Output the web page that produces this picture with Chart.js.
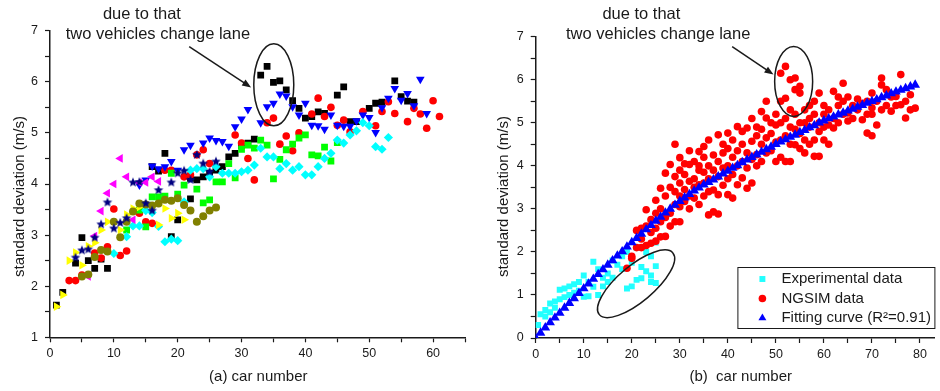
<!DOCTYPE html>
<html>
<head>
<meta charset="utf-8">
<script src="https://cdn.jsdelivr.net/npm/chart.js@4.4.0/dist/chart.umd.min.js"></script>
<style>
  body { margin: 0; background: #fff; }
  .wrap { display: flex; width: 940px; height: 391px; }
</style>
</head>
<body>
<div class="wrap">
  <canvas id="left" width="470" height="391"></canvas>
  <canvas id="right" width="470" height="391"></canvas>
</div>
<script>
// ---------- (a) panel: one series per platoon ----------
const blackSq = [[1,1.63],[2,1.88],[4,2.45],[5,2.95],[6,2.5],[7,2.35],[8,2.53],[9,2.35],[16,4.34],[17,4.25],[18,4.6],[19,2.97],[20,3.3],[22,3.71],[22,4.11],[23,4.08],[24,4.14],[25,4.21],[26,4.27],[27,4.34],[28,4.53],[29,4.6],[30,4.75],[31,4.8],[32,4.88],[33,6.13],[34,6.30],[35,5.99],[36,6.02],[37,5.84],[38,5.63],[39,5.48],[40,5.29],[41,5.32],[42,5.41],[43,5.38],[45,5.74],[46,5.9],[47,5.22],[48,5.22],[50,5.48],[51,5.58],[52,5.6],[54,6.02],[55,5.71],[56,5.62],[57,5.6]];
const redCirc = [[3,2.11],[4,2.11],[5,2.22],[7,2.65],[8,2.55],[9,2.77],[10,3.51],[11,2.6],[12,2.69],[14,3.43],[15,3.26],[16,3.23],[18,4.27],[19,4.27],[21,4.14],[22,4.18],[23,4.57],[24,4.67],[25,4.4],[29,4.96],[30,4.8],[31,4.5],[32,4.08],[34,5.2],[35,5.29],[36,4.78],[37,4.94],[38,4.65],[39,5.0],[41,5.37],[42,5.68],[43,5.32],[44,5.5],[45,5.15],[46,5.25],[47,5.02],[49,5.42],[51,5.14],[52,5.42],[53,5.61],[54,5.38],[56,5.22],[57,5.48],[58,5.37],[59,5.09],[60,5.63],[61,5.32]];
const blueTri = [[14,3.98],[15,4.08],[16,4.35],[17,4.3],[18,4.34],[19,4.44],[20,4.27],[21,4.67],[22,4.76],[24,4.8],[25,4.9],[26,4.85],[27,4.83],[28,4.74],[29,5.12],[30,5.27],[31,5.46],[33,5.2],[34,5.51],[35,5.58],[36,5.76],[37,5.72],[38,5.51],[39,5.35],[40,5.58],[41,5.15],[42,5.14],[43,5.07],[44,5.35],[45,5.15],[46,5.13],[47,5.13],[48,5.24],[49,5.35],[50,5.3],[51,5.01],[52,5.49],[53,5.68],[54,5.87],[55,5.64],[56,5.77],[57,5.53],[58,6.05],[59,5.38]];
const greenSq = [[12,3.1],[14,3.49],[15,3.16],[16,3.75],[17,3.75],[18,3.76],[19,4.21],[20,3.8],[21,3.98],[23,3.9],[24,3.63],[25,3.69],[26,4.04],[27,4.04],[28,4.4],[29,4.12],[30,4.68],[31,4.76],[32,4.7],[33,4.86],[34,4.76],[35,4.1],[36,4.48],[37,4.67],[38,4.78],[39,4.9],[40,4.96],[41,4.57],[42,4.55],[43,4.72],[44,4.45],[45,4.81]];
const cyanDia = [[10,2.64],[12,2.97],[13,3.18],[14,3.18],[15,3.48],[16,3.44],[17,3.17],[18,2.87],[19,2.92],[20,2.89],[21,3.65],[22,4.27],[23,4.3],[24,4.3],[25,4.14],[26,4.34],[27,4.21],[28,4.21],[29,4.21],[30,4.24],[31,4.27],[32,4.37],[33,4.7],[34,4.53],[35,4.53],[36,4.3],[37,4.4],[38,4.27],[39,4.34],[40,4.18],[41,4.18],[42,4.34],[43,4.5],[44,4.6],[45,4.86],[46,4.8],[47,4.96],[48,5.04],[49,5.2],[50,5.14],[51,4.73],[52,4.68],[53,4.91]];
const magentaTri = [[6,2.19],[7,2.98],[8,3.47],[9,3.82],[10,4.0],[11,4.5],[12,4.14],[13,3.3],[14,4.03],[15,4.03],[16,4.14],[17,4.05]];
const navyStar = [[4,2.56],[5,2.7],[6,2.72],[7,2.95],[8,3.21],[9,3.64],[10,3.13],[11,3.24],[12,3.33],[13,4.03],[14,4.04],[15,3.62],[16,3.48],[17,3.88],[19,4.03],[20,4.21],[21,4.26],[22,4.08],[23,4.57],[24,4.4],[25,4.24],[26,4.44]];
const yellowTri = [[1,1.6],[2,1.83],[3,2.5],[4,2.66],[5,2.41],[6,2.78],[7,2.85],[8,3.1],[9,3.26],[11,3.1],[12,3.4],[13,3.52],[14,3.55],[17,3.2],[18,3.52],[19,3.33],[20,3.43],[21,3.3]];
const oliveHex = [[5,2.19],[6,2.23],[7,2.57],[8,2.71],[9,2.68],[10,3.26],[11,2.96],[12,3.26],[13,3.46],[14,3.62],[15,3.6],[16,3.58],[17,3.62],[18,3.69],[19,3.67],[20,3.72],[21,3.59],[22,3.48],[23,3.26],[24,3.37],[25,3.48],[26,3.54]];

// ---------- (b) panel ----------
const expData = [[0.5,0.3],[1,0.55],[2,0.5],[2,0.65],[3,0.8],[3,0.6],[4,0.85],[4,0.7],[5,0.9],[5,1.12],[6,0.95],[6,1.15],[7,1.0],[7,1.2],[8,1.25],[8,1.05],[9,1.3],[9,1.1],[10,1.45],[10,0.96],[11,0.97],[11,1.3],[12,1.77],[12,1.19],[13,1.6],[13,1.0],[14,1.4],[14,1.2],[15,1.5],[15,1.3],[16,1.8],[16,1.4],[17,1.7],[18,1.6],[18,1.9],[19,1.15],[19,2.0],[20,1.2],[20,1.75],[21,1.35],[21,2.1],[22,1.39],[22,1.65],[23,2.0],[23,1.55],[24,1.3],[24,1.9],[24,1.45],[25,1.67],[25,1.28],[25,2.22]];
const ngsimData = [[19,1.62],[20,1.9],[20,1.85],[21,2.1],[21,2.5],[22,2.1],[22,2.55],[22,2.3],[23,2.15],[23,2.6],[23,2.98],[24,2.2],[24,2.45],[24,2.75],[25,2.25],[25,2.55],[25,2.9],[25,3.2],
  [26,2.35],[26,2.7],[26,3.0],[26,3.48],[27,2.36],[27,2.8],[27,3.83],[27,3.3],[28,2.6],[28,2.9],[28,3.5],[28,4.03],[29,2.7],[29,3.1],[29,3.4],[29,4.5],[29,3.75],[30,2.7],[30,3.05],[30,3.3],[30,3.6],[30,4.19],[30,3.9],
  [31,3.17],[31,3.45],[31,3.8],[31,4.05],[32,3.0],[32,3.3],[32,3.64],[32,4.03],[32,4.35],[33,3.25],[33,3.5],[33,3.7],[33,4.1],[34,3.1],[34,3.56],[34,3.9],[34,4.33],[34,4.0],[35,3.3],[35,3.6],[35,3.85],[35,4.2],[35,4.45],
  [36,2.86],[36,3.4],[36,3.7],[36,4.0],[36,4.6],[37,2.93],[37,3.44],[37,3.9],[37,4.25],[38,2.88],[38,3.33],[38,3.75],[38,4.1],[38,4.72],[39,3.55],[39,3.95],[39,4.3],[39,4.5],[40,3.33],[40,3.7],[40,4.0],[40,4.4],[40,4.76],
  [41,3.25],[41,3.8],[41,4.2],[41,4.6],[42,3.56],[42,4.0],[42,4.35],[42,4.91],[43,3.72],[43,4.1],[43,4.5],[43,4.8],[44,3.48],[44,3.95],[44,4.3],[44,4.88],[45,3.6],[45,4.15],[45,4.57],[45,5.1],
  [46,4.26],[46,4.0],[46,4.7],[46,4.9],[47,4.1],[47,4.5],[47,5.26],[47,4.85],[48,4.3],[48,4.65],[48,5.11],[48,5.5],[49,4.35],[49,4.75],[49,5.0],[50,4.1],[50,4.55],[50,4.95],[50,5.2],
  [51,6.15],[51,4.2],[51,4.6],[51,5.0],[51,5.5],[52,6.31],[52,4.1],[52,4.7],[52,5.1],[52,5.57],[53,6.0],[53,5.3],[53,4.1],[53,4.5],[53,4.9],[54,6.04],[54,5.77],[54,4.49],[54,4.85],[54,5.2],[55,5.85],[55,5.69],[55,4.4],[55,4.75],[55,5.0],
  [56,4.3],[56,4.6],[56,5.0],[56,5.3],[57,4.5],[57,4.9],[57,5.4],[57,5.1],[58,4.22],[58,4.6],[58,5.2],[58,5.5],[59,4.22],[59,4.8],[59,5.0],[59,5.69],[60,4.6],[60,4.9],[60,5.2],[60,5.4],
  [61,4.5],[61,4.95],[61,5.3],[62,4.88],[62,5.1],[62,5.73],[63,5.0],[63,5.4],[63,5.6],[64,5.2],[64,5.5],[64,5.92],[65,5.04],[65,5.23],[65,5.6],
  [66,5.1],[66,5.4],[67,5.3],[67,5.55],[68,5.07],[68,5.45],[69,4.76],[69,5.2],[69,5.5],[70,4.7],[70,5.35],[70,5.69],[70,5.2],
  [71,4.95],[71,5.5],[72,6.04],[72,5.88],[72,5.3],[73,5.77],[73,5.4],[74,5.27],[74,5.6],[75,5.61],[75,5.4],[76,6.12],[76,5.42],[77,5.11],[77,5.5],[78,5.65],[78,5.3],[79,5.34]];
// fitted curve, one value per car number 0..79
const fitY = [0.00,0.12,0.24,0.36,0.47,0.58,0.70,0.81,0.92,1.04,1.15,1.26,1.37,1.48,1.59,1.70,1.80,1.91,2.01,2.12,
  2.22,2.32,2.42,2.52,2.62,2.72,2.81,2.91,3.00,3.09,3.18,3.26,3.34,3.42,3.49,3.56,3.62,3.68,3.75,3.82,
  3.88,3.95,4.01,4.08,4.14,4.20,4.26,4.32,4.38,4.44,4.50,4.56,4.61,4.67,4.72,4.78,4.83,4.89,4.94,5.00,
  5.05,5.10,5.14,5.19,5.23,5.28,5.32,5.37,5.41,5.46,5.50,5.54,5.59,5.63,5.68,5.72,5.76,5.80,5.84,5.88];

const FONT = '"Liberation Sans", Arial, sans-serif';
const INK = '#1a1a1a';

function pts(arr) { return arr.map(([x, y]) => ({ x, y })); }

function starCanvas(color, r) {
  const c = document.createElement('canvas');
  c.width = c.height = 2 * r + 2;
  const g = c.getContext('2d');
  g.fillStyle = color;
  g.beginPath();
  for (let i = 0; i < 10; i++) {
    const rr = i % 2 ? r * 0.45 : r;
    const a = -Math.PI / 2 + i * Math.PI / 5;
    g.lineTo(r + 1 + rr * Math.cos(a), r + 1 + rr * Math.sin(a));
  }
  g.closePath();
  g.fill();
  return c;
}

function ds(label, data, style, color, radius, rotation) {
  return {
    label, data, pointStyle: style, pointRadius: radius, pointHoverRadius: radius,
    pointRotation: rotation || 0, backgroundColor: color, borderColor: color, pointBorderWidth: 0
  };
}

function everyFive(lastTick) {
  return s => {
    const t = [];
    for (let v = 0; v <= lastTick; v += 5) t.push({ value: v });
    s.ticks = t;
  };
}

function scalesFor(xMax, xLastTick, yMin, yMax, yWidth, xHeight) {
  const grid = { drawOnChartArea: false, tickLength: 5, tickColor: INK, tickWidth: 1.2 };
  const border = { display: true, color: INK, width: 1.5 };
  return {
    x: {
      type: 'linear', min: 0, max: xMax, grid, border,
      afterBuildTicks: everyFive(xLastTick),
      afterFit: s => { s.height = xHeight; },
      ticks: { autoSkip: false, maxRotation: 0, padding: 4, color: INK,
               font: { family: FONT, size: 12.5 }, callback: v => v % 10 === 0 ? v : '' }
    },
    y: {
      type: 'linear', min: yMin, max: yMax, grid, border,
      afterFit: s => { s.width = yWidth; },
      ticks: { stepSize: 0.5, autoSkip: false, padding: 7, color: INK,
               font: { family: FONT, size: 12.5 }, callback: v => Number.isInteger(v) ? v : '' }
    }
  };
}

// ellipses, arrows, notes and axis titles
function notesPlugin(n) {
  return {
    id: 'notes',
    afterDatasetsDraw(chart) {
      const { ctx, scales: { x, y } } = chart;
      ctx.save();
      ctx.strokeStyle = ctx.fillStyle = INK;
      ctx.lineWidth = 1.5;
      n.ellipses.forEach(e => {
        ctx.beginPath();
        ctx.ellipse(x.getPixelForValue(e.x), y.getPixelForValue(e.y), e.rx, e.ry, e.rot * Math.PI / 180, 0, 2 * Math.PI);
        ctx.stroke();
      });
      n.arrows.forEach(a => {
        const x0 = x.getPixelForValue(a.from[0]), y0 = y.getPixelForValue(a.from[1]);
        const x1 = x.getPixelForValue(a.to[0]), y1 = y.getPixelForValue(a.to[1]);
        const ang = Math.atan2(y1 - y0, x1 - x0);
        ctx.beginPath(); ctx.moveTo(x0, y0); ctx.lineTo(x1 - 6 * Math.cos(ang), y1 - 6 * Math.sin(ang)); ctx.stroke();
        ctx.beginPath();
        ctx.moveTo(x1, y1);
        ctx.lineTo(x1 - 9 * Math.cos(ang) + 3.5 * Math.sin(ang), y1 - 9 * Math.sin(ang) - 3.5 * Math.cos(ang));
        ctx.lineTo(x1 - 9 * Math.cos(ang) - 3.5 * Math.sin(ang), y1 - 9 * Math.sin(ang) + 3.5 * Math.cos(ang));
        ctx.closePath(); ctx.fill();
      });
      ctx.textAlign = 'center';
      ctx.textBaseline = 'middle';
      ctx.font = '16.5px ' + FONT;
      n.texts.forEach(t => ctx.fillText(t.text, x.getPixelForValue(t.x), y.getPixelForValue(t.y)));
      ctx.font = '15px ' + FONT;
      ctx.fillText(n.xTitle.text, n.xTitle.at[0], n.xTitle.at[1]);
      ctx.translate(n.yTitle.at[0], n.yTitle.at[1]);
      ctx.rotate(-Math.PI / 2);
      ctx.fillText(n.yTitle.text, 0, 0);
      ctx.restore();
    }
  };
}

const boxLegend = {
  id: 'boxLegend',
  afterDraw(chart) {
    const { ctx, chartArea: ca } = chart;
    const w = 197, h = 61, left = ca.right - w, top = ca.bottom - 71;
    ctx.save();
    ctx.fillStyle = '#fff';
    ctx.fillRect(left, top, w, h);
    ctx.strokeStyle = INK; ctx.lineWidth = 1;
    ctx.strokeRect(left + 0.5, top + 0.5, w, h);
    ctx.font = '15px ' + FONT;
    ctx.textAlign = 'left'; ctx.textBaseline = 'middle';
    [2, 1, 0].forEach((idx, i) => {
      const d = chart.data.datasets[idx];
      const yy = top + 12 + i * 19.5;
      ctx.fillStyle = ctx.strokeStyle = d.backgroundColor;
      Chart.helpers.drawPoint(ctx, { pointStyle: d.pointStyle, radius: Math.min(d.pointRadius, 4.6), rotation: d.pointRotation, borderWidth: 0 }, left + 25, yy);
      ctx.fillStyle = INK;
      ctx.fillText(d.label, left + 44, yy);
    });
    ctx.restore();
  }
};

new Chart(document.getElementById('left'), {
  type: 'scatter',
  data: {
    datasets: [
      ds('navy', pts(navyStar), starCanvas('#000080', 5), '#000080', 5),
      ds('olive', pts(oliveHex), 'circle', '#808000', 4),
      ds('yellow', pts(yellowTri), 'triangle', '#ffff00', 5, 90),
      ds('magenta', pts(magentaTri), 'triangle', '#ff00ff', 5, 270),
      ds('cyan', pts(cyanDia), 'rectRot', '#00ffff', 4.6),
      ds('blue', pts(blueTri), 'triangle', '#0000ff', 5, 180),
      ds('green', pts(greenSq), 'rect', '#00ff00', 4.8),
      ds('red', pts(redCirc), 'circle', '#ff0000', 3.8),
      ds('black', pts(blackSq), 'rect', '#000000', 4.8)
    ]
  },
  options: {
    responsive: false, animation: false,
    layout: { padding: { top: 30.7, right: 3, bottom: 0, left: 0 } },
    plugins: { legend: { display: false }, tooltip: { enabled: false } },
    scales: scalesFor(65, 65, 1, 7, 50, 53.7)
  },
  plugins: [notesPlugin({
    ellipses: [{ x: 35.05, y: 5.94, rx: 20, ry: 41, rot: 0 }],
    arrows: [{ from: [21.8, 6.69], to: [31.5, 5.89] }],
    texts: [{ text: 'due to that', x: 14.4, y: 7.31 }, { text: 'two vehicles change lane', x: 16.9, y: 6.92 }],
    xTitle: { text: '(a) car number', at: [258.3, 376.7] },
    yTitle: { text: 'standard deviation (m/s)', at: [19.6, 196.5] }
  })]
});

new Chart(document.getElementById('right'), {
  type: 'scatter',
  data: {
    datasets: [
      ds('Fitting curve (R\u00b2=0.91)', fitY.map((v, i) => ({ x: i, y: v })), 'triangle', '#0000ff', 5.6),
      ds('NGSIM data', pts(ngsimData), 'circle', '#ff0000', 3.8),
      ds('Experimental data', pts(expData), 'rect', '#22ffff', 4.2)
    ]
  },
  options: {
    responsive: false, animation: false,
    layout: { padding: { top: 36.7, right: 3, bottom: 0, left: 0 } },
    plugins: { legend: { display: false }, tooltip: { enabled: false } },
    scales: scalesFor(83, 80, 0, 7, 65.7, 53)
  },
  plugins: [notesPlugin({
    ellipses: [{ x: 53.7, y: 5.96, rx: 19, ry: 35, rot: 0 }, { x: 20.9, y: 1.26, rx: 48, ry: 18, rot: -40 }],
    arrows: [{ from: [40.9, 6.77], to: [49.5, 6.12] }],
    texts: [{ text: 'due to that', x: 22.0, y: 7.51 }, { text: 'two vehicles change lane', x: 25.5, y: 7.05 }],
    xTitle: { text: '(b)  car number', at: [270.7, 376.7] },
    yTitle: { text: 'standard deviation (m/s)', at: [33.6, 196.5] }
  }), boxLegend]
});
</script>
</body>
</html>
